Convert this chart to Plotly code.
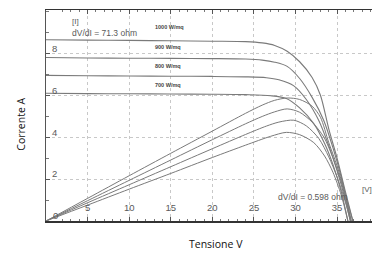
import plotly.graph_objects as go

# I-V curves (Tensione V, Corrente A)
v_1000 = [0, 5, 10, 15, 20, 24, 26, 27.5, 29, 30.5, 32, 33, 34, 35, 36, 36.9]
i_1000 = [8.65, 8.63, 8.62, 8.6, 8.58, 8.56, 8.5, 8.38, 8.1, 7.6, 6.85, 6.0, 4.4, 3.0, 1.4, 0]
v_900 = [0, 5, 10, 15, 20, 24, 26, 27.5, 29, 30.5, 32, 33.4, 34.5, 35.5, 36.7]
i_900 = [7.8, 7.78, 7.77, 7.76, 7.75, 7.73, 7.68, 7.58, 7.38, 6.8, 5.9, 4.8, 3.5, 2.1, 0]
v_800 = [0, 5, 10, 15, 20, 24, 26.5, 28, 29.8, 31.3, 32.8, 34, 35, 36, 36.6]
i_800 = [6.95, 6.93, 6.92, 6.91, 6.9, 6.88, 6.84, 6.74, 6.45, 5.8, 4.8, 3.6, 2.4, 1.0, 0]
v_700 = [0, 5, 10, 15, 20, 24, 27, 28.9, 30.5, 32.2, 33.5, 34.5, 35.5, 36.3]
i_700 = [6.1, 6.08, 6.07, 6.06, 6.05, 6.03, 5.98, 5.85, 5.4, 4.65, 3.7, 2.7, 1.4, 0]

# P-V curves (scaled)
p_1000 = [0, 1.08, 2.16, 3.23, 4.29, 5.14, 5.53, 5.76, 5.87, 5.80, 5.48, 4.95, 3.74, 2.63, 1.26, 0]
p_900 = [0, 0.97, 1.94, 2.91, 3.88, 4.64, 4.99, 5.21, 5.35, 5.19, 4.72, 4.01, 3.02, 1.86, 0]
p_800 = [0, 0.87, 1.73, 2.59, 3.45, 4.13, 4.53, 4.72, 4.81, 4.54, 3.94, 3.06, 2.1, 0.9, 0]
p_700 = [0, 0.76, 1.52, 2.27, 3.03, 3.62, 4.04, 4.23, 4.12, 3.74, 3.10, 2.33, 1.24, 0]

curve_labels = ["1000 W/mq", "900 W/mq", "800 W/mq", "700 W/mq"]
x_ticks = [5, 10, 15, 20, 25, 30, 35]
y_ticks = [2, 4, 6, 8]

line_col = "#7a7a7a"
txt_col = "#5a5a5a"

fig = go.Figure()
for v, i in [(v_1000, i_1000), (v_900, i_900), (v_800, i_800), (v_700, i_700)]:
    fig.add_trace(go.Scatter(x=v, y=i, mode="lines", line=dict(color=line_col, width=1.1, shape="spline", smoothing=0.8), hoverinfo="skip"))
for v, p in [(v_1000, p_1000), (v_900, p_900), (v_800, p_800), (v_700, p_700)]:
    fig.add_trace(go.Scatter(x=v, y=p, mode="lines", line=dict(color=line_col, width=1.0, shape="spline", smoothing=0.8), hoverinfo="skip"))

# irradiance labels
label_y = [9.24, 8.29, 7.38, 6.48]
for lab, yy in zip(curve_labels, label_y):
    fig.add_annotation(x=12.9, y=yy, text="<b>" + lab + "</b>", showarrow=False, xanchor="left", yanchor="middle",
                       font=dict(family="Liberation Sans", size=5.5, color="#444"))

fig.add_annotation(x=2.9, y=9.5, text="[I]", showarrow=False, xanchor="left", yanchor="middle",
                   font=dict(family="Liberation Sans", size=8, color=txt_col))
fig.add_annotation(x=2.9, y=8.97, text="dV/dI = 71.3 ohm", showarrow=False, xanchor="left", yanchor="middle",
                   font=dict(family="Liberation Sans", size=8.5, color=txt_col))
fig.add_annotation(x=27.7, y=1.14, text="dV/dI = 0.598 ohm", showarrow=False, xanchor="left", yanchor="middle",
                   font=dict(family="Liberation Sans", size=8.5, color=txt_col))
fig.add_annotation(x=37.7, y=1.48, text="[V]", showarrow=False, xanchor="left", yanchor="middle",
                   font=dict(family="Liberation Sans", size=8, color=txt_col))
# "0" label at the origin
fig.add_annotation(x=1.1, y=0.25, text="0", showarrow=False, xanchor="center", yanchor="middle",
                   font=dict(family="Liberation Sans", size=9.5, color=txt_col))

# axis titles
fig.add_annotation(xref="paper", yref="paper", x=-0.105, y=0.46, text="Corrente A", textangle=-90, showarrow=False,
                   font=dict(family="Open Sans", size=10.5, color="#111"))
fig.add_annotation(xref="paper", yref="paper", x=0.52, y=-0.15, text="Tensione V", showarrow=False,
                   font=dict(family="Open Sans", size=10.5, color="#111"))

fig.update_xaxes(range=[0, 39.2], showline=True, linecolor="#333", linewidth=1.5, mirror="allticks",
                 ticks="inside", ticklen=4, tickcolor="#555", tickvals=x_ticks,
                 minor=dict(ticks="inside", dtick=1, ticklen=2, tickcolor="#777", showgrid=False),
                 ticklabelposition="inside", ticklabelstandoff=3,
                 tickfont=dict(family="Liberation Sans", size=9.5, color=txt_col),
                 showgrid=True, gridcolor="#c8c8c8", griddash="dot", gridwidth=1, zeroline=False)
fig.update_yaxes(range=[0, 10.07], showline=True, linecolor="#555", linewidth=1, mirror=False,
                 ticks="inside", ticklen=4, tickcolor="#555", tickvals=y_ticks,
                 minor=dict(ticks="inside", dtick=1, ticklen=3, tickcolor="#777", showgrid=False),
                 ticklabelposition="inside", ticklabelshift=-5, ticklabelstandoff=1,
                 tickfont=dict(family="Liberation Sans", size=9.5, color=txt_col),
                 showgrid=True, gridcolor="#c8c8c8", griddash="dot", gridwidth=1, zeroline=False)

fig.update_layout(width=372, height=261, margin=dict(l=46, r=0, t=10, b=40),
                  paper_bgcolor="white", plot_bgcolor="white", showlegend=False)

fig.write_html("out.html", config={"displayModeBar": False, "staticPlot": True},
               post_script="document.body.style.margin='0';document.body.style.overflow='hidden';")
